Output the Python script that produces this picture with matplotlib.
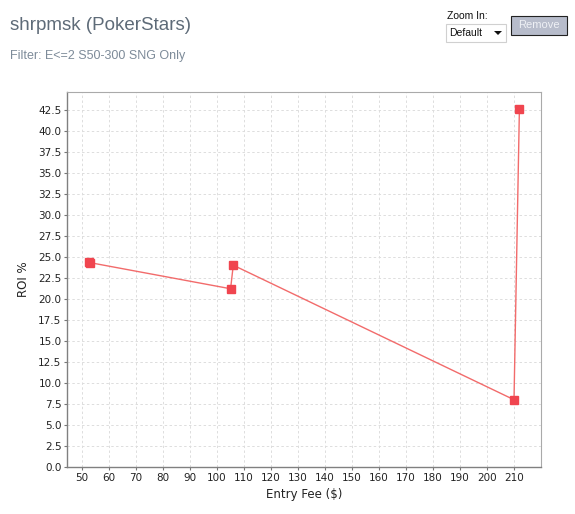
import matplotlib
matplotlib.use("Agg")
import matplotlib.pyplot as plt
from matplotlib.patches import Rectangle, Polygon

entry_fee = [52.4, 53.0, 105, 106, 210, 212]
roi = [24.4, 24.3, 21.2, 24.0, 8.0, 42.6]
x_ticks = list(range(50, 211, 10))
y_ticks = [i * 2.5 for i in range(18)]

plt.rcParams['font.family'] = ['DejaVu Sans']

fig = plt.figure(figsize=(5.75, 5.14), dpi=100)
fig.patch.set_facecolor('white')
ax = fig.add_axes([67/575, 47/514, (541-67)/575, (467-92)/514])

ax.plot(entry_fee, roi, color='#f26b6b', lw=1.0, marker='s', markersize=5.5,
        markerfacecolor='#f0454f', markeredgecolor='#f0454f', zorder=3)

ax.set_xlim(44.4, 220)
ax.set_ylim(0, 44.6)
ax.set_xticks(x_ticks)
ax.set_yticks(y_ticks)
ax.set_yticklabels([f"{v:.1f}" for v in y_ticks])
ax.tick_params(labelsize=7.5, length=2, width=0.8, pad=2)
ax.tick_params(axis='x', colors='#777777', labelcolor='#222222')
ax.tick_params(axis='y', colors='#777777', labelcolor='#222222')
ax.grid(True, color='#dddddd', linestyle=(0, (2.5, 2.5)), lw=0.7)
ax.set_axisbelow(True)
for s in ['top', 'right']:
    ax.spines[s].set_color('#aaaaaa')
    ax.spines[s].set_linewidth(0.8)
for s in ['left', 'bottom']:
    ax.spines[s].set_color('#808080')
    ax.spines[s].set_linewidth(1.0)
ax.set_xlabel('Entry Fee ($)', fontsize=8.5, color='#222222', labelpad=4)
ax.set_ylabel('ROI %', fontsize=8.5, color='#222222', labelpad=6)

fig.text(10/575, 1 - 25/514, 'shrpmsk (PokerStars)', fontsize=13.5, color='#5e6b78',
         va='center', ha='left', family='Liberation Sans')
fig.text(10/575, 1 - 56/514, 'Filter: E<=2 S50-300 SNG Only', fontsize=9,
         color='#7d8b99', va='center', ha='left', family='Liberation Sans')

# Zoom widget
fig.text(447/575, 1 - 16/514, 'Zoom In:', fontsize=7.5, color='#111111', va='center', ha='left',
         family='Liberation Sans')
fig.patches.append(Rectangle((446/575, 1 - 42/514), 60/575, 18/514, transform=fig.transFigure,
                             facecolor='white', edgecolor='#d0d0d0', lw=0.8))
fig.text(449/575, 1 - 33/514, 'Default', fontsize=7.5, color='#111111', va='center', ha='left',
         family='Liberation Sans')
fig.patches.append(Polygon([(494/575, 1 - 31/514), (502/575, 1 - 31/514), (498/575, 1 - 35/514)],
                           closed=True, transform=fig.transFigure, facecolor='#111111', edgecolor='none'))
fig.patches.append(Rectangle((511/575, 1 - 35/514), 56/575, 19/514, transform=fig.transFigure,
                             facecolor='#b7bccb', edgecolor='#222222', lw=0.8))
fig.text(539/575, 1 - 25.5/514, 'Remove', fontsize=8, color='#eef0f5', va='center', ha='center',
         family='Liberation Sans')

fig.savefig('out.png', dpi=100)
